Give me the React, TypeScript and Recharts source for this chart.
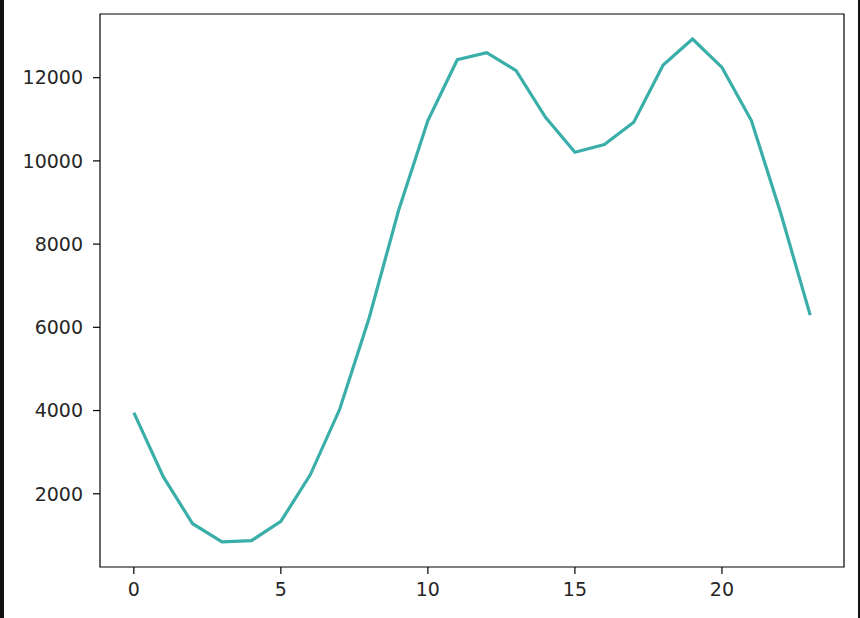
import { LineChart, Line, XAxis, YAxis, ReferenceArea } from 'recharts';

const hours = [0, 1, 2, 3, 4, 5, 6, 7, 8, 9, 10, 11, 12, 13, 14, 15, 16, 17, 18, 19, 20, 21, 22, 23];
const counts = [
  3950, 2410, 1280, 845, 873, 1336, 2456, 4030, 6220, 8800, 10969, 12432,
  12600, 12168, 11048, 10209, 10393, 10928, 12305, 12928, 12247, 10969, 8740, 6293,
];
const xTicks = [0, 5, 10, 15, 20];
const yTicks = [2000, 4000, 6000, 8000, 10000, 12000];

const X_DOMAIN: [number, number] = [-1.15, 24.15];
const Y_DOMAIN: [number, number] = [240, 13530];

const data = hours.map((h, i) => ({ hour: h, count: counts[i] }));

const tickStyle = { fontSize: 19, fill: '#262626', fontFamily: 'DejaVu Sans' };

export default function App() {
  return (
    <div
      style={{
        position: 'absolute',
        top: 0,
        left: 0,
        width: 860,
        height: 618,
        background: '#fff',
        overflow: 'hidden',
      }}
    >
      {/* dark edges from the screenshot */}
      <div style={{ position: 'absolute', left: 0, top: 0, width: 4, height: 618, background: '#111' }} />
      <div style={{ position: 'absolute', left: 858, top: 0, width: 2, height: 618, background: '#111' }} />

      <LineChart
        width={860}
        height={618}
        data={data}
        margin={{ top: 14, right: 16, bottom: 0, left: 0 }}
      >
        <XAxis
          dataKey="hour"
          type="number"
          domain={X_DOMAIN}
          ticks={xTicks}
          allowDataOverflow
          height={51}
          axisLine={false}
          tickLine={{ stroke: '#000', strokeWidth: 1.2 }}
          tickSize={7}
          tickMargin={9}
          tick={tickStyle}
        />
        <YAxis
          type="number"
          domain={Y_DOMAIN}
          ticks={yTicks}
          allowDataOverflow
          width={100}
          axisLine={false}
          tickLine={{ stroke: '#000', strokeWidth: 1.2 }}
          tickSize={7}
          tickMargin={10}
          tick={tickStyle}
        />
        <ReferenceArea
          x1={X_DOMAIN[0]}
          x2={X_DOMAIN[1]}
          y1={Y_DOMAIN[0]}
          y2={Y_DOMAIN[1]}
          fill="none"
          stroke="#000"
          strokeWidth={1.2}
        />
        <Line
          type="linear"
          dataKey="count"
          stroke="#3aafa9"
          strokeWidth={3.2}
          dot={false}
          isAnimationActive={false}
        />
      </LineChart>
    </div>
  );
}
